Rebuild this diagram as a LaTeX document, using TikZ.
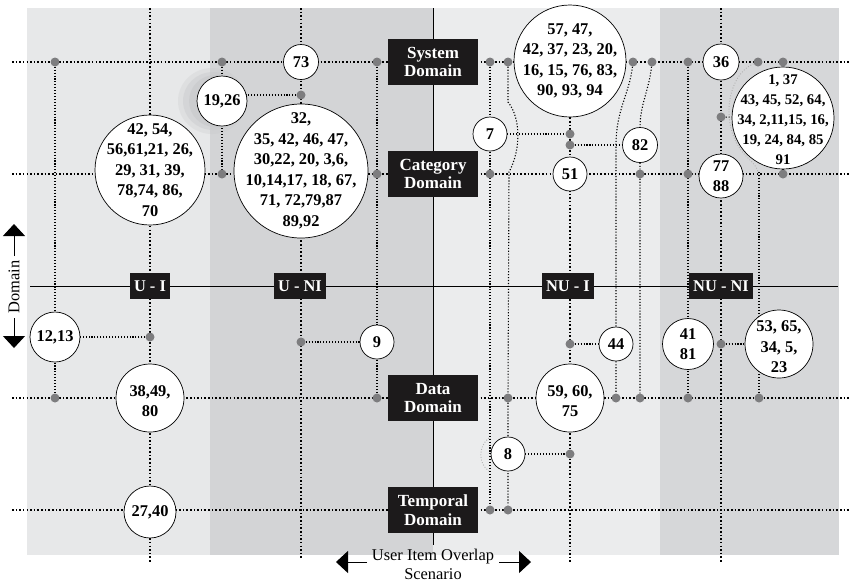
\documentclass[tikz,border=0pt]{standalone}
\usepackage{fontspec}
\setmainfont{Liberation Serif}
\usetikzlibrary{arrows.meta}
\definecolor{bandA}{HTML}{E7E8E9}
\definecolor{bandB}{HTML}{D3D4D6}
\definecolor{bandC}{HTML}{EBECED}
\definecolor{bandD}{HTML}{D6D7D9}
\definecolor{shadowc}{HTML}{C4C5C7}
\definecolor{dotgray}{HTML}{7D7D7F}
\definecolor{boxblack}{HTML}{1C1A1B}
\pgfdeclarelayer{bg}
\pgfdeclarelayer{lines}
\pgfsetlayers{bg,lines,main}
\tikzset{
  bub/.style={circle, draw=black, line width=0.6pt, fill=white, inner sep=0pt},
  btxt/.style={inner sep=0pt, align=center, font=\bfseries\fontsize{14}{17.5}\selectfont},
  dom/.style={fill=boxblack, text=white, align=center, inner sep=0pt,
    minimum width=27mm, minimum height=13.8mm, font=\bfseries\fontsize{14.5}{16}\selectfont},
  quad/.style={fill=boxblack, text=white, inner xsep=1.3mm, inner ysep=0pt,
    minimum height=7.8mm, font=\bfseries\fontsize{14}{16}\selectfont},
  jn/.style={circle, fill=dotgray, inner sep=0pt, minimum size=2.7mm},
  major/.style={line width=1.35pt, dash pattern=on 1.35pt off 1.75pt},
  minor/.style={line width=0.95pt, dash pattern=on 0.95pt off 1.55pt},
  faint/.style={draw=black!30, line width=0.8pt, dash pattern=on 0.8pt off 1.5pt},
  axisline/.style={line width=0.6pt},
  axtxt/.style={inner sep=0pt, align=center, font=\fontsize{14}{16.2}\selectfont},
  bigarrow/.style={line width=0.8pt, -{Triangle[length=3.6mm,width=6.6mm]}}
}
\begin{document}
\begin{tikzpicture}[x=0.3mm,y=-0.3mm]
\useasboundingbox (0,0) rectangle (857,581);

% ---------- coordinates ----------
\coordinate (r1w) at (12,62);  \coordinate (r1e) at (850,62);
\coordinate (r2w) at (12,174); \coordinate (r2e) at (850,174);
\coordinate (r3w) at (12,398); \coordinate (r3e) at (850,398);
\coordinate (r4w) at (12,510); \coordinate (r4e) at (850,510);
\coordinate (ct) at (433,8);   \coordinate (cb) at (433,545);
\coordinate (hl) at (30,286);  \coordinate (hr) at (838,286);
\coordinate (v150t) at (150,8);  \coordinate (v150b) at (150,562);
\coordinate (v301t) at (301,8);  \coordinate (v301b) at (301,560);
\coordinate (v570b) at (570,562);
\coordinate (v721t) at (721,8);  \coordinate (v721b) at (721,562);
\coordinate (du1) at (14,256); \coordinate (du2) at (14,224);
\coordinate (dd1) at (14,318); \coordinate (dd2) at (14,348);
\coordinate (la1) at (367,562); \coordinate (la2) at (336,562);
\coordinate (ra1) at (499,562); \coordinate (ra2) at (531,562);

% ---------- domain boxes ----------
\node[dom] (sys) at (433,62)  {System\\Domain};
\node[dom] (cat) at (433,174) {Category\\Domain};
\node[dom] (dat) at (433,398) {Data\\Domain};
\node[dom] (tem) at (433,510) {Temporal\\Domain};

% ---------- quadrant labels ----------
\node[quad] (qui)   at (150,286) {U - I};
\node[quad] (quni)  at (300,286) {U - NI};
\node[quad] (qnui)  at (568,286) {NU - I};
\node[quad] (qnuni) at (721,286) {NU - NI};

% ---------- axis labels ----------
\node[axtxt, rotate=90] (dm) at (14,287) {Domain};
\node[axtxt] (sc) at (433,564) {User Item Overlap\\Scenario};
\draw[bigarrow] (du1) -- (du2);
\draw[bigarrow] (dd1) -- (dd2);
\draw[bigarrow] (la1) -- (la2);
\draw[bigarrow] (ra1) -- (ra2);

% ---------- junction dots ----------
\node[jn] (a1) at (55,62) {};   \node[jn] (a2) at (222,62) {};
\node[jn] (a3) at (377,62) {};  \node[jn] (a4) at (490,62) {};
\node[jn] (a5) at (508,62) {};  \node[jn] (a6) at (633,62) {};
\node[jn] (a7) at (652,62) {};  \node[jn] (a8) at (688,62) {};
\node[jn] (a9) at (758,62) {};  \node[jn] (a10) at (783,62) {};
\node[jn] (b1) at (222,174) {}; \node[jn] (b2) at (377,174) {};
\node[jn] (b3) at (490,174) {}; \node[jn] (b4) at (640,174) {};
\node[jn] (b5) at (688,174) {}; \node[jn] (b6) at (783,174) {};
\node[jn] (d1) at (55,398) {};  \node[jn] (d2) at (377,398) {};
\node[jn] (d3) at (508,398) {}; \node[jn] (d4) at (616,398) {};
\node[jn] (d5) at (640,398) {}; \node[jn] (d6) at (688,398) {};
\node[jn] (d7) at (759,398) {};
\node[jn] (t1) at (490,510) {}; \node[jn] (t2) at (508,510) {};
\node[jn] (e1) at (150,337) {}; \node[jn] (e2) at (301,95) {};
\node[jn] (e3) at (301,342) {}; \node[jn] (e4) at (570,134) {};
\node[jn] (e5) at (570,145) {}; \node[jn] (e6) at (721,117) {};
\node[jn] (e7) at (570,344) {}; \node[jn] (e8) at (570,454) {};
\node[jn] (e9) at (721,344) {};

% ---------- bubbles ----------
\node[bub, minimum size=10.5mm] (c73) at (301,62) {};
\node[btxt] (c73t) at (c73) {73};
\node[bub, minimum size=15mm] (c1926) at (222,101) {};
\node[btxt] (c1926t) at (c1926) {19,26};
\node[bub, minimum size=40.2mm] (cUNI) at (301,171) {};
\node[btxt] (cUNIt) at (cUNI) {32,\\35, 42, 46, 47,\\30,22, 20, 3,6,\\10,14,17, 18, 67,\\71, 72,79,87\\89,92};
\node[bub, minimum size=33mm] (cUI) at (150,170) {};
\node[btxt] (cUIt) at (cUI) {42, 54,\\56,61,21, 26,\\29, 31, 39,\\78,74, 86,\\70};
\node[bub, minimum size=15mm] (c1213) at (55,337) {};
\node[btxt] (c1213t) at (c1213) {12,13};
\node[bub, minimum size=20.4mm] (c3849) at (150,398) {};
\node[btxt] (c3849t) at (150,401) {38,49,\\80};
\node[bub, minimum size=15.6mm] (c2740) at (150,512) {};
\node[btxt] (c2740t) at (c2740) {27,40};
\node[bub, minimum size=10.2mm] (c9) at (377,342) {};
\node[btxt] (c9t) at (c9) {9};
\node[bub, minimum size=10.2mm] (c7) at (490,134) {};
\node[btxt] (c7t) at (c7) {7};
\node[bub, minimum size=33.6mm] (cNUI) at (570,61) {};
\node[btxt] (cNUIt) at (cNUI) {57, 47,\\42, 37, 23, 20,\\16, 15, 76, 83,\\90, 93, 94};
\node[bub, minimum size=10.2mm] (c51) at (570,174) {};
\node[btxt] (c51t) at (c51) {51};
\node[bub, minimum size=10.5mm] (c82) at (640,145) {};
\node[btxt] (c82t) at (c82) {82};
\node[bub, minimum size=10.8mm] (c36) at (721,62) {};
\node[btxt] (c36t) at (c36) {36};
\node[bub, minimum size=30.6mm] (cNUNI) at (783,118) {};
\node[btxt, font=\bfseries\fontsize{12.6}{17}\selectfont] (cNUNIt) at (783,120) {1, 37\\43, 45, 52, 64,\\34, 2,11,15, 16,\\19, 24, 84, 85\\91};
\node[bub, minimum size=13.2mm] (c7788) at (721,176) {};
\node[btxt] (c7788t) at (c7788) {77\\88};
\node[bub, minimum size=10.2mm] (c44) at (616,344) {};
\node[btxt] (c44t) at (c44) {44};
\node[bub, minimum size=15.3mm] (c4181) at (688,344) {};
\node[btxt] (c4181t) at (c4181) {41\\81};
\node[bub, minimum size=20.4mm] (c5365) at (779,344) {};
\node[btxt] (c5365t) at (779,347) {53, 65,\\34, 5,\\23};
\node[bub, minimum size=20.4mm] (c5960) at (570,398) {};
\node[btxt] (c5960t) at (570,401) {59, 60,\\75};
\node[bub, minimum size=10.2mm] (c8) at (508,454) {};
\node[btxt] (c8t) at (c8) {8};

% ---------- connectors ----------
\begin{pgfonlayer}{lines}
\draw[major] (r1w) -- (r1e);
\draw[major] (r2w) -- (r2e);
\draw[major] (r3w) -- (r3e);
\draw[major] (r4w) -- (r4e);
\draw[axisline] (ct) -- (cb);
\draw[axisline] (hl) -- (hr);
\draw[major] (v150t) -- (v150b);
\draw[major] (v301t) -- (v301b);
\draw[major] (cNUI) -- (v570b);
\draw[major] (v721t) -- (v721b);
\draw[minor] (a1) -- (d1);
\draw[minor] (e1) -- (c1213);
\draw[minor] (a2) -- (b1);
\draw[minor] (e2 -| c1926) -- (e2);
\draw[minor] (e3) -- (c9);
\draw[minor] (a3) -- (d2);
\draw[minor] (a4) -- (t1);
\draw[minor] (a5) -- (508,102) .. controls (521,118) and (521,150) .. (509,172) -- (d3) -- (t2);
\draw[minor] (c7) -- (e4);
\draw[minor] (e5) -- (c82);
\draw[minor] (e7) -- (c44);
\draw[minor] (c8) -- (e8);
\draw[minor] (a6) .. controls (629,95) and (616,110) .. (616,145) -- (c44) -- (d4);
\draw[minor] (a7) .. controls (649,90) and (640,105) .. (c82) -- (b4) -- (d5);
\draw[minor] (a8) -- (d6);
\draw[minor] (e6) -- (cNUNI);
\draw[minor] (e9) -- (c5365);
\draw[faint] (a9) .. controls (728,74) and (718,125) .. (745,155) .. controls (755,165) and (759,168) .. (759,180);
\draw[minor] (759,172) -- (d7);
\draw[minor] (a10) -- (b6);
\draw[faint] (489,438) .. controls (478,446) and (478,464) .. (489,471);
\end{pgfonlayer}

% ---------- background bands ----------
\begin{pgfonlayer}{bg}
\fill[bandA] (27,8) rectangle (210,555);
\fill[bandB] (210,8) rectangle (433,555);
\fill[bandC] (433,8) rectangle (660,555);
\fill[bandD] (660,8) rectangle (839,555);
\fill[shadowc, opacity=0.25] (212,101) ellipse [x radius=34, y radius=33];
\fill[shadowc, opacity=0.35] (213,101) ellipse [x radius=30, y radius=29];
\fill[shadowc, opacity=0.45] (215,101) ellipse [x radius=26, y radius=26];
\end{pgfonlayer}
\end{tikzpicture}
\end{document}
